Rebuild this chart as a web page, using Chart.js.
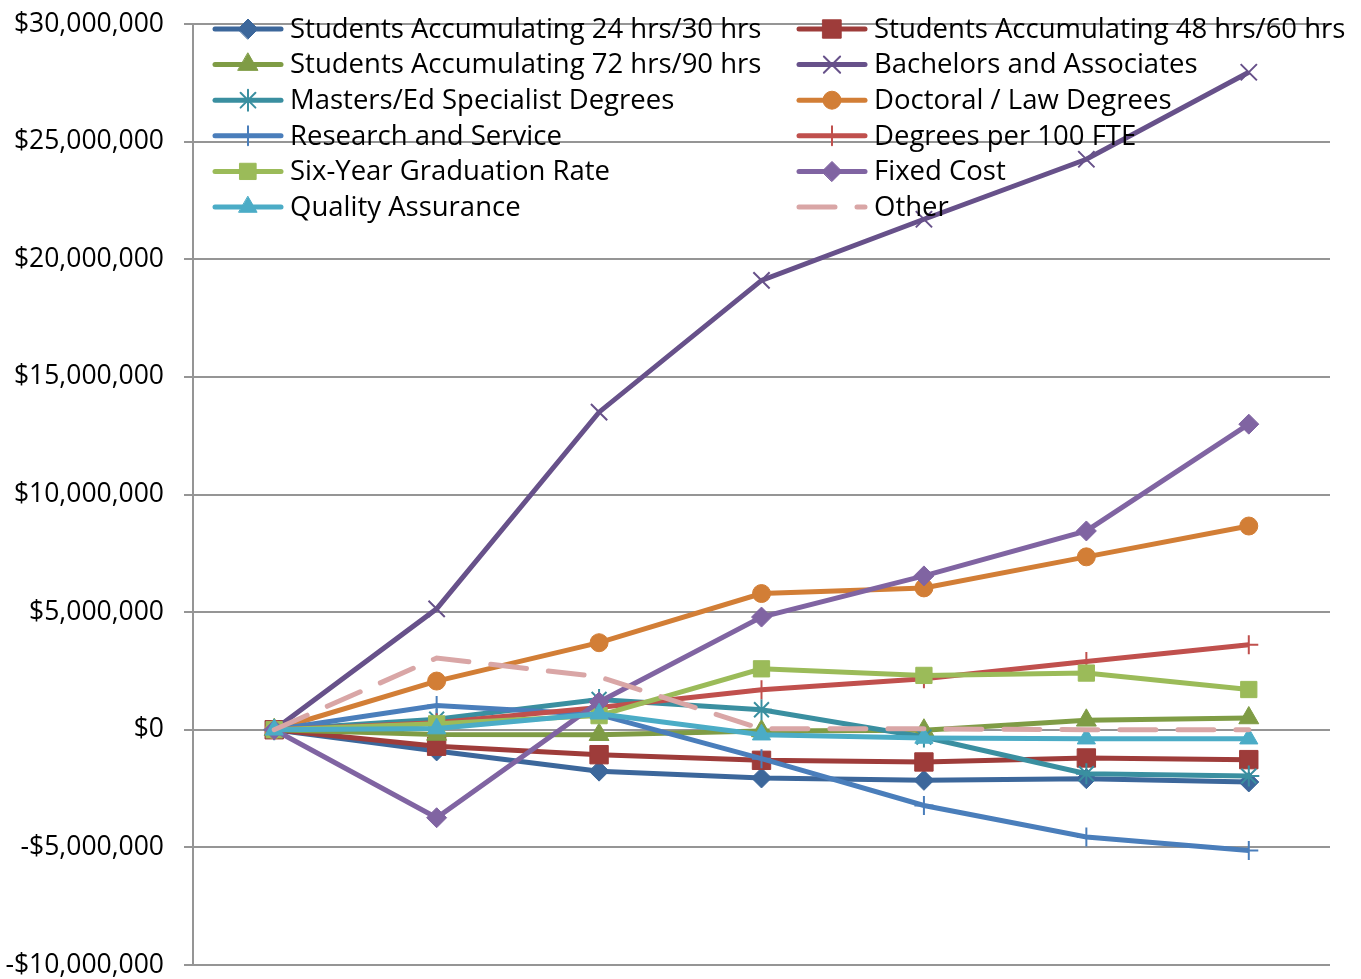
<!DOCTYPE html>
<html>
<head>
<meta charset="utf-8">
<script src="https://cdn.jsdelivr.net/npm/chart.js@4.4.1/dist/chart.umd.min.js"></script>
<style>
  html, body { margin: 0; padding: 0; background: #fff; }
  #wrap { width: 1361px; height: 979px; }
</style>
</head>
<body>
<div id="wrap"><canvas id="chart" width="1361" height="979"></canvas></div>
<script>
// categories (the x axis carries no labels in the original)
const periods = ['P1', 'P2', 'P3', 'P4', 'P5', 'P6', 'P7'];

// series values, in dollars
const students24 = [0, -900000, -1760000, -2050000, -2150000, -2080000, -2220000];
const students48 = [0, -700000, -1060000, -1300000, -1370000, -1200000, -1270000];
const students72 = [0, -200000, -210000, -50000, -20000, 400000, 500000];
const bachelors = [0, 5140000, 13500000, 19100000, 21700000, 24250000, 27950000];
const masters = [0, 450000, 1290000, 850000, -310000, -1870000, -1970000];
const doctoral = [0, 2070000, 3700000, 5790000, 6030000, 7350000, 8660000];
const research = [0, 1030000, 640000, -1230000, -3220000, -4560000, -5130000];
const degreesPer100 = [0, 300000, 950000, 1700000, 2170000, 2900000, 3610000];
const sixYear = [0, 250000, 600000, 2590000, 2310000, 2410000, 1710000];
const fixedCost = [0, -3740000, 1180000, 4790000, 6540000, 8450000, 12990000];
const quality = [0, 50000, 680000, -210000, -350000, -380000, -380000];
const other = [0, 3050000, 2250000, 40000, 40000, 0, 0];

// y axis tick range
const yMin = -10000000;
const yMax = 30000000;
const yStep = 5000000;

const FONT = "'Open Sans', 'Noto Sans', sans-serif";

function money(v) {
    const s = '$' + Math.abs(v).toLocaleString('en-US');
    return v < 0 ? '-' + s : s;
}

function series(label, data, color, style, radius, extra) {
    return Object.assign({
        label: label,
        data: data,
        borderColor: color,
        backgroundColor: color,
        borderWidth: 5,
        pointStyle: style,
        pointRadius: radius,
        pointHoverRadius: radius,
        pointBackgroundColor: color,
        pointBorderColor: color,
        pointBorderWidth: 1,
        tension: 0,
        fill: false
    }, extra || {});
}

const datasets = [
    series('Students Accumulating 24 hrs/30 hrs', students24, '#3c679b', 'rectRot', 10),
    series('Students Accumulating 48 hrs/60 hrs', students48, '#9e3c3a', 'rect', 13),
    series('Students Accumulating 72 hrs/90 hrs', students72, '#7f9c45', 'triangle', 11.5),
    series('Bachelors and Associates', bachelors, '#67518a', 'crossRot', 11.5, { pointBorderWidth: 2 }),
    series('Masters/Ed Specialist Degrees', masters, '#3a8fa0', 'star', 10.5, { pointBorderWidth: 2 }),
    series('Doctoral / Law Degrees', doctoral, '#d27e36', 'circle', 9),
    series('Research and Service', research, '#4a7ebb', 'cross', 9.5, { pointBorderWidth: 2 }),
    series('Degrees per 100 FTE', degreesPer100, '#c0504d', 'cross', 9.5, { pointBorderWidth: 2 }),
    series('Six-Year Graduation Rate', sixYear, '#9bbb59', 'rect', 11.5),
    series('Fixed Cost', fixedCost, '#8064a2', 'rectRot', 10),
    series('Quality Assurance', quality, '#4bacc6', 'triangle', 10.5),
    series('Other', other, '#d9a6a6', false, 0, { borderDash: [36, 22], borderCapStyle: 'round' })
];
// later series are drawn on top, like the original
datasets.forEach((d, i) => { d.order = -i; });

// legend drawn inside the plot area, two columns
const insideLegend = {
    id: 'insideLegend',
    afterDraw(chart) {
        const ctx = chart.ctx;
        const colX = [213, 797];
        const rowY0 = 29;
        const rowStep = 35.6;
        ctx.save();
        chart.data.datasets.forEach((ds, i) => {
            const x = colX[i % 2];
            const y = rowY0 + Math.floor(i / 2) * rowStep;
            ctx.strokeStyle = ds.borderColor;
            ctx.fillStyle = ds.borderColor;
            ctx.lineWidth = 5;
            ctx.lineCap = 'round';
            ctx.setLineDash(ds.borderDash || []);
            ctx.beginPath();
            ctx.moveTo(x + 2, y);
            ctx.lineTo(x + 68, y);
            ctx.stroke();
            ctx.setLineDash([]);
            if (ds.pointStyle) {
                ctx.lineWidth = ds.pointBorderWidth;
                Chart.helpers.drawPoint(ctx, {
                    pointStyle: ds.pointStyle,
                    radius: ds.pointRadius,
                    rotation: 0,
                    borderWidth: ds.pointBorderWidth
                }, x + 35, y);
            }
            ctx.fillStyle = '#000';
            ctx.font = '27.5px ' + FONT;
            ctx.textBaseline = 'middle';
            ctx.textAlign = 'left';
            ctx.fillText(ds.label, x + 77, y + 1);
        });
        ctx.restore();
    }
};

const chart = new Chart(document.getElementById('chart'), {
    type: 'line',
    data: { labels: periods, datasets: datasets },
    plugins: [insideLegend],
    options: {
        responsive: false,
        animation: false,
        layout: { padding: { top: 24, bottom: 13, left: 0, right: 31 } },
        plugins: {
            legend: { display: false },
            tooltip: { enabled: false }
        },
        scales: {
            x: { display: false, offset: true },
            y: {
                min: yMin,
                max: yMax,
                ticks: {
                    stepSize: yStep,
                    color: '#000',
                    padding: 20,
                    font: { family: FONT, size: 26.5 },
                    callback: v => money(v)
                },
                grid: { color: '#959595', lineWidth: 2, tickLength: 9 },
                border: { color: '#959595', width: 2 },
                afterFit(scale) {
                    scale.width = 193;
                    scale.paddingTop = 0;
                    scale.paddingBottom = 0;
                }
            }
        }
    }
});
</script>
</body>
</html>
